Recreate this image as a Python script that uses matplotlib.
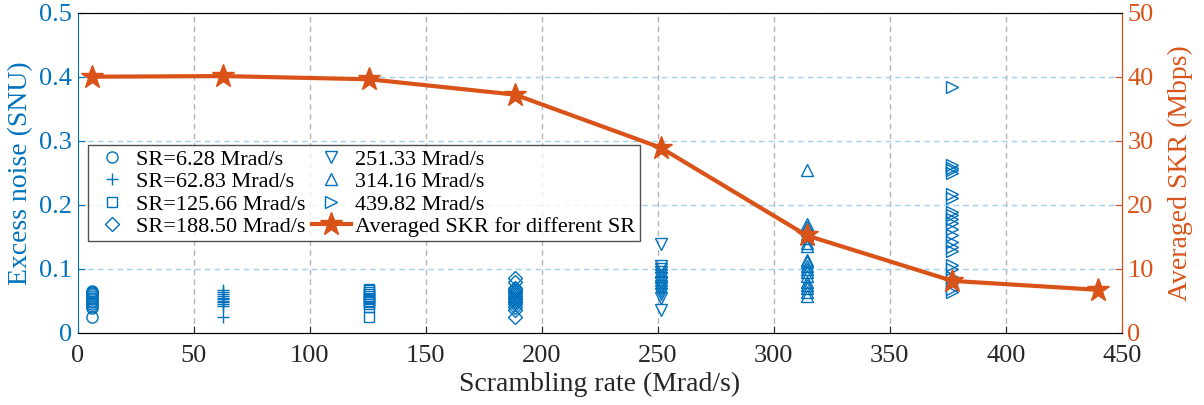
import matplotlib
matplotlib.use('Agg')
import matplotlib.pyplot as plt

plt.rcParams['font.family'] = ['Liberation Serif', 'DejaVu Serif']
plt.rcParams['mathtext.fontset'] = 'stix'

BLUE = '#0072BD'
ORANGE = '#D95319'

# excess noise samples for each scrambling rate (SNU)
sr_628 = [0.024, 0.038, 0.042, 0.045, 0.048, 0.050, 0.052, 0.055, 0.057, 0.060, 0.062, 0.064, 0.065]
sr_6283 = [0.024, 0.042, 0.045, 0.048, 0.050, 0.053, 0.055, 0.058, 0.060, 0.063, 0.066]
sr_12566 = [0.024, 0.040, 0.045, 0.048, 0.050, 0.052, 0.055, 0.058, 0.060, 0.063, 0.066, 0.068]
sr_18850 = [0.024, 0.035, 0.040, 0.045, 0.048, 0.050, 0.053, 0.055, 0.058, 0.060, 0.063,
            0.065, 0.068, 0.070, 0.080, 0.085]
sr_25133 = [0.036, 0.055, 0.060, 0.065, 0.070, 0.073, 0.077, 0.080, 0.085, 0.090, 0.095,
            0.100, 0.105, 0.138]
sr_31416 = [0.057, 0.063, 0.070, 0.075, 0.080, 0.088, 0.095, 0.100, 0.105, 0.110, 0.113,
            0.135, 0.140, 0.148, 0.155, 0.160, 0.165, 0.170, 0.254]
sr_37699 = [0.063, 0.068, 0.077, 0.087, 0.100, 0.106, 0.127, 0.134, 0.142, 0.152, 0.162,
            0.172, 0.178, 0.184, 0.189, 0.210, 0.217, 0.250, 0.254, 0.258, 0.262, 0.384]

scatter_sets = [
    (6.28, sr_628, 'o', 'SR=6.28 Mrad/s'),
    (62.83, sr_6283, '+', 'SR=62.83 Mrad/s'),
    (125.66, sr_12566, 's', 'SR=125.66 Mrad/s'),
    (188.50, sr_18850, 'D', 'SR=188.50 Mrad/s'),
    (251.33, sr_25133, 'v', '251.33 Mrad/s'),
    (314.16, sr_31416, '^', '314.16 Mrad/s'),
    (376.99, sr_37699, '>', '439.82 Mrad/s'),
]

# averaged secret key rate (Mbps)
skr_sr = [6.28, 62.83, 125.66, 188.50, 251.33, 314.16, 376.99, 439.82]
skr_vals = [40.0, 40.1, 39.6, 37.2, 28.9, 15.2, 8.1, 6.7]

fig = plt.figure(figsize=(12.04, 4.05), dpi=100)
ax = fig.add_axes([0.0645, 0.1785, 0.8672, 0.7901])
ax2 = ax.twinx()

marker_sizes = {'o': 8, '+': 9, 's': 6.5, 'D': 7, 'v': 9, '^': 9, '>': 9}
handles = []
for x, vals, m, lab in scatter_sets:
    h, = ax.plot([x] * len(vals), vals, linestyle='none', marker=m,
                 markersize=marker_sizes[m], markerfacecolor='none',
                 markeredgecolor=BLUE, markeredgewidth=1.0, color=BLUE, label=lab)
    handles.append(h)

hl, = ax2.plot(skr_sr, skr_vals, color=ORANGE, lw=3, marker='*', markersize=17,
               label='Averaged SKR for different SR', zorder=5)
handles.append(hl)

ax.set_xlim(0, 450)
ax.set_ylim(0, 0.5)
ax2.set_ylim(0, 50)
ax.set_xticks(range(0, 451, 50))
ax.set_yticks([0, 0.1, 0.2, 0.3, 0.4, 0.5])
ax.set_yticklabels(['0', '0.1', '0.2', '0.3', '0.4', '0.5'])
ax2.set_yticks(range(0, 51, 10))

# grid: vertical grey dashed, horizontal light blue dashed
for xv in range(50, 450, 50):
    ax.axvline(xv, color='#b4b4b4', ls=(0, (4, 3)), lw=1.0, zorder=0)
for yv in [0.1, 0.2, 0.3, 0.4, 0.5]:
    ax.axhline(yv, color='#9fd0ee', ls=(0, (4, 3)), lw=1.0, zorder=0)

ax.tick_params(axis='x', direction='in', labelsize=19, colors='#262626', length=5, pad=9)
ax.tick_params(axis='y', direction='in', labelsize=19, colors=BLUE, length=5, pad=4)
ax2.tick_params(axis='y', direction='in', labelsize=19, colors=ORANGE, length=5, pad=4)

for side in ['top', 'bottom']:
    ax.spines[side].set_color('#262626')
ax.spines['left'].set_color(BLUE)
ax2.spines['right'].set_color(ORANGE)
ax2.spines['left'].set_visible(False)

ax.set_xlabel('Scrambling rate (Mrad/s)', fontsize=20, color='#262626', labelpad=3)
ax.set_ylabel('Excess noise (SNU)', fontsize=20, color=BLUE, labelpad=4)
ax2.set_ylabel('Averaged SKR (Mbps)', fontsize=20, color=ORANGE, labelpad=10)

leg = ax2.legend(handles=handles, ncol=2, loc='upper left',
                 bbox_to_anchor=(0.0099, 0.587), fontsize=16, frameon=True,
                 fancybox=False, edgecolor='#262626', handlelength=1.75,
                 handletextpad=0.2, columnspacing=0.3, labelspacing=0.08,
                 borderpad=0.2, borderaxespad=0)
leg.get_frame().set_linewidth(1.0)
leg.set_zorder(10)

fig.savefig('out.png', dpi=100)
